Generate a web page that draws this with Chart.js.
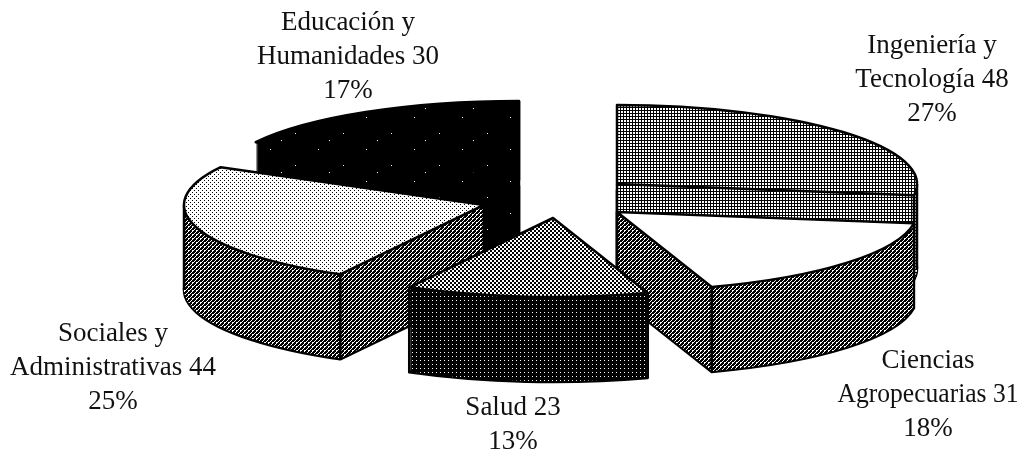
<!DOCTYPE html>
<html><head><meta charset="utf-8">
<style>html,body{margin:0;padding:0;background:#fff}#w{width:1025px;height:451px;position:relative}</style>
<script src="https://cdn.jsdelivr.net/npm/chart.js@4"></script>
</head><body><div id="w"><canvas id="c"></canvas></div>
<script>
const categories = ["Ingeniería y|Tecnología", "Ciencias|Agropecuarias", "Salud", "Sociales y|Administrativas", "Educación y|Humanidades"];
const values = [48, 31, 23, 44, 30];
const percents = ["27%", "18%", "13%", "25%", "17%"];

function tile(w, h, fn) {
  const c = document.createElement('canvas'); c.width = w; c.height = h;
  const x = c.getContext('2d');
  x.fillStyle = '#fff'; x.fillRect(0, 0, w, h); x.fillStyle = '#000';
  for (let j = 0; j < h; j++) for (let i = 0; i < w; i++) if (fn(i, j)) x.fillRect(i, j, 1, 1);
  return x.createPattern(c, 'repeat');
}
const grid = () => tile(3, 3, (i, j) => i === 2 || j === 2);
const checker = () => tile(4, 4, (i, j) => (((i >> 1) + (j >> 1)) % 2 === 0) || (i === 1 && j === 3) || (i === 3 && j === 1) || (i === 2 && j === 0));
const mediumChecker = () => tile(4, 4, (i, j) => ((i >> 1) + (j >> 1)) % 2 === 0);
const dots = () => tile(4, 4, (i, j) => (i === 0 && j === 0) || (i === 2 && j === 2));
const darkDots = () => tile(4, 4, (i, j) => !(i === 0 && j === 0));
const solid = () => tile(48, 32, (i, j) => !((i === 7 && j === 5) || (i === 30 && j === 21) || (i === 41 && j === 12)));
const white = () => tile(2, 2, () => false);

const topFills = [grid(), white(), mediumChecker(), dots(), solid()];
const sideFills = [grid(), checker(), darkDots(), checker(), solid()];

const pie3d = {
  id: 'pie3d',
  beforeDatasetsDraw(chart, args, o) {
    const ctx = chart.ctx, arcs = chart.getDatasetMeta(0).data;
    const project = (arc, i, d) => {
      ctx.setTransform(1, 0, 0, 1, 0, 0);
      ctx.translate(o.centers[i][0], o.centers[i][1] + d);
      ctx.scale(o.rx / arc.outerRadius, o.ry / arc.outerRadius);
      ctx.translate(-arc.x, -arc.y);
    };
    const fillAt = (arc, i, d, pat) => {
      project(arc, i, d);
      pat.setTransform(ctx.getTransform().inverse());
      const el = Object.create(arc);
      el.options = { backgroundColor: pat, borderColor: '#000', borderWidth: 0, borderAlign: 'center', offset: 0, spacing: 0, circular: true, borderRadius: 0, borderJoinStyle: 'round' };
      el.draw(ctx);
      ctx.setTransform(1, 0, 0, 1, 0, 0);
    };
    ctx.save();
    ctx.strokeStyle = '#000'; ctx.lineWidth = 2.5; ctx.lineJoin = 'round';
    for (const i of o.order) {
      const arc = arcs[i], [cx, cy] = o.centers[i];
      fillAt(arc, i, o.depth, sideFills[i]); ctx.stroke();
      for (let d = o.depth - 1; d > 0; d--) fillAt(arc, i, d, sideFills[i]);
      const a0 = arc.startAngle, a1 = arc.endAngle;
      const edgeX = [];
      for (const e of o.edges[i]) {
        if (e === 'apex') edgeX.push([cx, cy]);
        else {
          const a = e === 'start' ? a0 : e === 'end' ? a1 : (e * Math.PI / 180 - Math.PI / 2);
          edgeX.push([cx + o.rx * Math.cos(a), cy + o.ry * Math.sin(a)]);
        }
      }
      ctx.beginPath();
      for (const [x, y] of edgeX) { ctx.moveTo(x, y); ctx.lineTo(x, y + o.depth); }
      ctx.stroke();
      fillAt(arc, i, 0, topFills[i]); ctx.stroke();
    }
    ctx.restore();
    return false;
  },
  afterDraw(chart, args, o) {
    const ctx = chart.ctx;
    ctx.save();
    ctx.setTransform(1, 0, 0, 1, 0, 0);
    ctx.fillStyle = '#111'; ctx.textAlign = 'center'; ctx.textBaseline = 'alphabetic';
    ctx.font = o.font;
    categories.forEach((name, i) => {
      const parts = name.split('|');
      const lines = parts.length > 1 ? [parts[0], parts[1] + ' ' + values[i], percents[i]] : [parts[0] + ' ' + values[i], percents[i]];
      const [x, y] = o.labels[i];
      lines.forEach((t, k) => ctx.fillText(t, x, y + k * o.leading, o.maxWidths[i]));
    });
    ctx.restore();
  }
};

new Chart(document.getElementById('c'), {
  type: 'pie',
  data: { labels: categories, datasets: [{ data: values, backgroundColor: topFills, borderWidth: 0 }] },
  options: {
    responsive: true, maintainAspectRatio: false, animation: false,
    rotation: 0,
    plugins: {
      legend: { display: false }, tooltip: { enabled: false },
      pie3d: {
        rx: 300, ry: 79, depth: 85,
        centers: [[617, 184], [617, 212], [553, 218], [484, 205], [519, 180]],
        order: [4, 0, 3, 1, 2],
        edges: [['apex', 90, 'end'], ['apex', 'start', 'end'], ['start', 'end'], ['apex', 'start', 270], ['apex', 'end']],
        font: '27px "Liberation Serif"',
        leading: 34,
        labels: [[932, 53], [928, 368], [513, 415], [113, 341], [348, 30]],
        maxWidths: [155, 181, 200, 207, 184]
      }
    }
  },
  plugins: [pie3d]
});
</script></body></html>
